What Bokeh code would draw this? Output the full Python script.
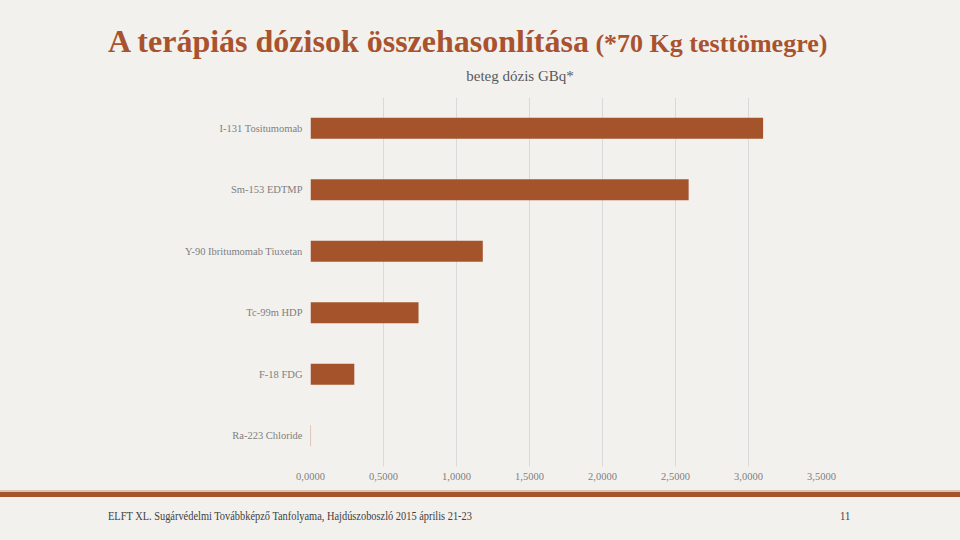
from bokeh.plotting import figure
from bokeh.models import FactorRange, Range1d, FixedTicker, Div
from bokeh.layouts import column
from bokeh.embed import file_html
from bokeh.resources import INLINE

categories = ["I-131 Tositumomab", "Sm-153 EDTMP", "Y-90 Ibritumomab Tiuxetan",
              "Tc-99m HDP", "F-18 FDG", "Ra-223 Chloride"]
doses = [3.10, 2.59, 1.18, 0.74, 0.30, 0.0035]
x_ticks = [0, 0.5, 1.0, 1.5, 2.0, 2.5, 3.0, 3.5]
x_tick_labels = ["0,0000", "0,5000", "1,0000", "1,5000", "2,0000", "2,5000", "3,0000", "3,5000"]
title_main = "A terápiás dózisok összehasonlítása"
title_note = "(*70 Kg testtömegre)"
subtitle = "beteg dózis GBq*"
footer_text = "ELFT XL. Sugárvédelmi Továbbképző Tanfolyama, Hajdúszoboszló 2015 április 21-23"
page_no = "11"

BG = "#f2f1ee"
BROWN = "#a5532b"
TITLE_C = "#a9532e"
SERIF = "Liberation Serif"

# header (page rows 0..90)
head_html = (
    f'<div style="position:relative;width:960px;height:90px;background:{BG};'
    f'font-family:\'{SERIF}\';overflow:hidden;">'
    f'<div style="position:absolute;left:108px;top:23px;white-space:nowrap;line-height:normal;'
    f'color:{TITLE_C};font-weight:bold;">'
    f'<span style="font-size:32px;">{title_main}</span>'
    f'<span style="font-size:26px;"> {title_note}</span></div>'
    f'<div style="position:absolute;left:420px;width:200px;top:68px;text-align:center;'
    f'font-size:15px;line-height:normal;color:#595959;white-space:nowrap;">{subtitle}</div>'
    f'</div>'
)
head = Div(text=head_html, width=960, height=90, margin=0, styles={"background-color": BG})

# main chart (page rows 90..490)
factors = list(reversed(categories))
p = figure(width=960, height=400, output_backend="svg", toolbar_location=None,
           y_range=FactorRange(factors=factors, range_padding=0),
           x_range=Range1d(0, 3.5), margin=0,
           min_border_left=310, min_border_right=139, min_border_top=7, min_border_bottom=24)
p.background_fill_color = BG
p.border_fill_color = BG
p.outline_line_color = None

p.hbar(y=categories, right=doses, left=0, height=0.34, fill_color=BROWN, line_color=None)

p.xaxis.ticker = FixedTicker(ticks=x_ticks)
p.xaxis.major_label_overrides = {t: l for t, l in zip(x_ticks, x_tick_labels)}
p.xaxis.axis_line_color = None
p.xaxis.major_tick_line_color = None
p.xaxis.minor_tick_line_color = None
p.xaxis.major_tick_out = 0
p.xaxis.minor_tick_out = 0
p.xaxis.major_label_text_font = SERIF
p.xaxis.major_label_text_font_size = "10.5px"
p.xaxis.major_label_text_color = "#7f7f7f"
p.xaxis.major_label_standoff = 6

p.yaxis.axis_line_color = None
p.yaxis.major_tick_line_color = None
p.yaxis.minor_tick_line_color = None
p.yaxis.major_tick_out = 0
p.yaxis.minor_tick_out = 0
p.yaxis.major_label_text_font = SERIF
p.yaxis.major_label_text_font_size = "10.5px"
p.yaxis.major_label_text_color = "#7f7f7f"
p.yaxis.major_label_standoff = 8

p.xgrid.grid_line_color = "#d9d9d9"
p.xgrid.ticker = FixedTicker(ticks=x_ticks)
p.ygrid.grid_line_color = None

# footer (page rows 490..540)
foot_html = (
    f'<div style="position:relative;width:960px;height:50px;background:{BG};'
    f'font-family:\'{SERIF}\';overflow:hidden;">'
    f'<div style="position:absolute;left:0;top:0;width:960px;height:2px;background:#dcc2b4;"></div>'
    f'<div style="position:absolute;left:0;top:2px;width:960px;height:5px;background:{BROWN};"></div>'
    f'<div style="position:absolute;left:108px;top:19px;font-size:12.5px;line-height:normal;'
    f'color:#404040;white-space:nowrap;transform:scaleX(0.83);transform-origin:0 0;">{footer_text}</div>'
    f'<div style="position:absolute;left:840px;top:19px;font-size:12.5px;line-height:normal;'
    f'color:#404040;white-space:nowrap;transform:scaleX(0.85);transform-origin:0 0;">{page_no}</div>'
    f'</div>'
)
foot = Div(text=foot_html, width=960, height=50, margin=0, styles={"background-color": BG})

layout = column(head, p, foot, spacing=0, margin=0, styles={"background-color": BG})
open("out.html", "w").write(file_html(layout, INLINE))
